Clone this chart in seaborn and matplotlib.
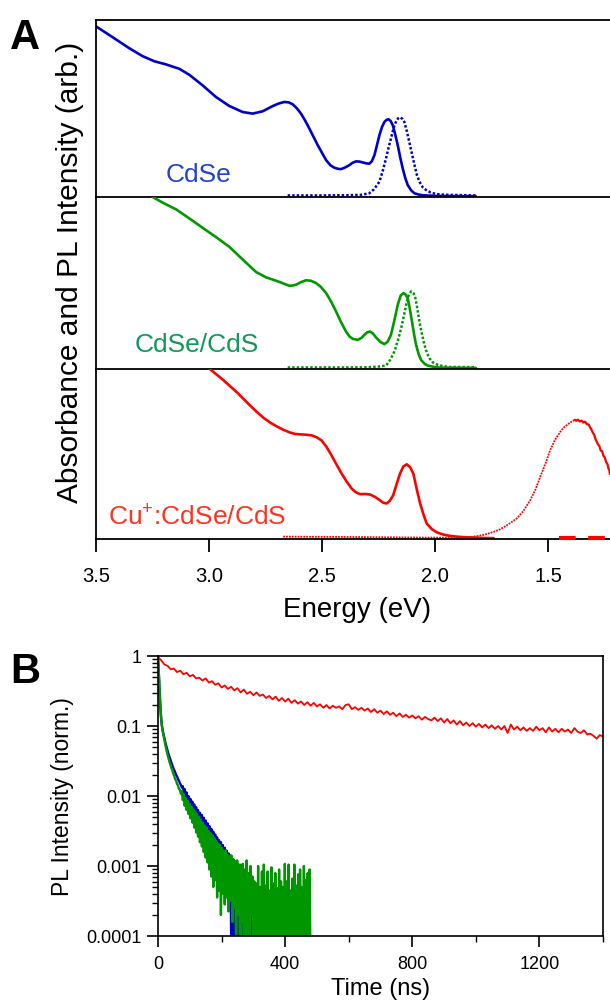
import numpy as np
import matplotlib
matplotlib.use("Agg")
import matplotlib.pyplot as plt
import seaborn as sns
from matplotlib.ticker import FixedLocator, FixedFormatter, LogLocator, NullFormatter

# ---------------- Panel A data (energy in eV, normalised intensity) ----------------
cdse_abs_E = [3.5, 3.426, 3.353, 3.294, 3.242, 3.19, 3.131, 3.087, 3.028, 2.969, 2.910,
              2.851, 2.807, 2.763, 2.718, 2.690, 2.667, 2.648, 2.630, 2.612, 2.593, 2.575,
              2.556, 2.519, 2.482, 2.462, 2.445, 2.430, 2.416, 2.397, 2.379, 2.365, 2.35,
              2.335, 2.320, 2.305, 2.291, 2.280, 2.268, 2.257, 2.246, 2.235, 2.224, 2.215,
              2.206, 2.197, 2.187, 2.176, 2.165, 2.154, 2.143, 2.132, 2.121, 2.106, 2.091,
              2.073, 2.055, 1.996, 1.819]
cdse_abs = [0.964, 0.902, 0.84, 0.795, 0.766, 0.748, 0.723, 0.689, 0.629, 0.563, 0.512,
            0.478, 0.469, 0.482, 0.512, 0.527, 0.535, 0.533, 0.522, 0.500, 0.469, 0.430,
            0.384, 0.29, 0.205, 0.175, 0.162, 0.156, 0.154, 0.164, 0.177, 0.190, 0.198,
            0.197, 0.192, 0.187, 0.185, 0.198, 0.234, 0.290, 0.347, 0.392, 0.422, 0.433,
            0.437, 0.428, 0.403, 0.350, 0.29, 0.220, 0.158, 0.105, 0.064, 0.034, 0.017,
            0.010, 0.006, 0.002, 0.0]
cdse_pl_E = [2.652, 2.5, 2.4, 2.33, 2.291, 2.27, 2.246, 2.23, 2.217, 2.205, 2.195, 2.183,
             2.173, 2.163, 2.155, 2.145, 2.136, 2.125, 2.114, 2.102, 2.091, 2.08, 2.069,
             2.055, 2.04, 2.02, 1.996, 1.96, 1.937, 1.819]
cdse_pl = [0.005, 0.005, 0.006, 0.008, 0.017, 0.04, 0.083, 0.15, 0.215, 0.28, 0.328, 0.39,
           0.422, 0.443, 0.448, 0.44, 0.422, 0.37, 0.309, 0.24, 0.177, 0.12, 0.083,
           0.052, 0.036, 0.022, 0.013, 0.009, 0.008, 0.005]

cs_abs_E = [3.262, 3.249, 3.205, 3.146, 3.087, 3.028, 2.969, 2.910, 2.851, 2.792, 2.748,
            2.696, 2.665, 2.645, 2.630, 2.615, 2.593, 2.571, 2.549, 2.527, 2.505, 2.482,
            2.46, 2.438, 2.416, 2.394, 2.378, 2.364, 2.342, 2.325, 2.313, 2.300, 2.288,
            2.275, 2.261, 2.243, 2.224, 2.21, 2.195, 2.18, 2.165, 2.152, 2.140, 2.131,
            2.121, 2.112, 2.102, 2.093, 2.084, 2.073, 2.062, 2.045, 2.032, 2.005, 1.981,
            1.819]
cs_abs = [1.02, 1.0, 0.967, 0.928, 0.875, 0.82, 0.766, 0.709, 0.635, 0.5625, 0.531,
          0.508, 0.492, 0.482, 0.483, 0.488, 0.503, 0.514, 0.511, 0.498, 0.475, 0.439,
          0.39, 0.332, 0.27, 0.215, 0.185, 0.172, 0.166, 0.178, 0.195, 0.210, 0.215,
          0.203, 0.18, 0.155, 0.141, 0.155, 0.195, 0.28, 0.371, 0.425, 0.439, 0.432,
          0.41, 0.35, 0.273, 0.2, 0.137, 0.085, 0.049, 0.025, 0.016, 0.008, 0.004,
          0.002]
cs_pl_E = [2.652, 2.4, 2.3, 2.25, 2.217, 2.198, 2.18, 2.165, 2.15, 2.139, 2.128, 2.117,
           2.106, 2.096, 2.087, 2.078, 2.069, 2.058, 2.047, 2.036, 2.025, 2.01, 1.988,
           1.96, 1.937, 1.819]
cs_pl = [0.005, 0.005, 0.006, 0.01, 0.016, 0.05, 0.098, 0.16, 0.234, 0.3, 0.371, 0.425,
         0.449, 0.44, 0.41, 0.345, 0.273, 0.2, 0.137, 0.09, 0.059, 0.035, 0.02,
         0.012, 0.008, 0.006]

cu_abs_E = [3.01, 2.996, 2.967, 2.937, 2.907, 2.877, 2.848, 2.818, 2.789, 2.759, 2.730,
            2.700, 2.671, 2.642, 2.62, 2.598, 2.572, 2.546, 2.524, 2.502, 2.48, 2.458,
            2.436, 2.413, 2.391, 2.369, 2.35, 2.332, 2.31, 2.288, 2.266, 2.244, 2.229,
            2.214, 2.2, 2.185, 2.17, 2.155, 2.14, 2.125, 2.11, 2.096, 2.081, 2.066,
            2.051, 2.037, 2.015, 1.992, 1.963, 1.933, 1.896, 1.859, 1.82, 1.786, 1.74]
cu_abs = [1.02, 1.0, 0.968, 0.935, 0.899, 0.863, 0.824, 0.784, 0.747, 0.712, 0.684,
          0.661, 0.641, 0.625, 0.617, 0.614, 0.612, 0.608, 0.597, 0.578, 0.54, 0.49,
          0.436, 0.382, 0.335, 0.294, 0.272, 0.261, 0.262, 0.259, 0.245, 0.225, 0.21,
          0.206, 0.222, 0.255, 0.32, 0.382, 0.425, 0.437, 0.42, 0.382, 0.29, 0.206,
          0.14, 0.088, 0.055, 0.035, 0.022, 0.014, 0.009, 0.006, 0.004, 0.002, 0.001]
cu_abs_tail_E = [1.45, 1.226]
cu_abs_tail = [0.003, 0.003]
cu_pl_E = [2.672, 2.4, 2.2, 2.0, 1.90, 1.859, 1.82, 1.786, 1.75, 1.712, 1.675, 1.638,
           1.61, 1.579, 1.555, 1.535, 1.512, 1.491, 1.47, 1.447, 1.43, 1.41, 1.395, 1.381]
cu_pl = [0.01, 0.008, 0.006, 0.004, 0.004, 0.006, 0.012, 0.02, 0.034, 0.053, 0.083, 0.118,
         0.16, 0.225, 0.29, 0.363, 0.44, 0.52, 0.58, 0.627, 0.655, 0.676, 0.69, 0.70]
cu_pl_tail_E = [1.381, 1.375, 1.368, 1.36, 1.352, 1.344, 1.336, 1.328, 1.32, 1.314, 1.308,
                1.302, 1.296, 1.290, 1.285, 1.279, 1.273, 1.267, 1.261, 1.255, 1.249,
                1.243, 1.237, 1.233, 1.229, 1.227]
cu_pl_tail = [0.70, 0.694, 0.701, 0.690, 0.695, 0.684, 0.689, 0.674, 0.672, 0.655, 0.642,
              0.624, 0.612, 0.585, 0.572, 0.555, 0.545, 0.518, 0.515, 0.487, 0.478,
              0.450, 0.438, 0.412, 0.405, 0.38]

energy_ticks = [3.5, 3.0, 2.5, 2.0, 1.5]
energy_tick_labels = ["3.5", "3.0", "2.5", "2.0", "1.5"]

# ---------------- Panel B data (time in ns, log10 of normalised PL) ----------------
time_step_fast = 3    # ns between points for CdSe and CdSe/CdS decays
time_step_slow = 10   # ns between points for Cu+ decay
cdse_decay_log = [
    0.00, -0.30, -0.62, -0.85, -0.99, -1.07, -1.13, -1.19, -1.25, -1.30,
    -1.35, -1.40, -1.44, -1.48, -1.52, -1.56, -1.60, -1.63, -1.66, -1.70,
    -1.72, -1.76, -1.78, -1.82, -1.84, -1.88, -1.86, -1.95, -1.90, -2.02,
    -1.95, -2.09, -2.00, -2.14, -2.04, -2.19, -2.08, -2.25, -2.12, -2.30,
    -2.16, -2.35, -2.20, -2.40, -2.24, -2.46, -2.27, -2.51, -2.31, -2.57,
    -2.35, -2.62, -2.39, -2.68, -2.43, -2.74, -2.47, -2.80, -2.51, -2.86,
    -2.55, -2.92, -2.59, -2.99, -2.63, -3.06, -2.66, -3.12, -2.70, -3.20,
    -2.74, -3.28, -2.78, -3.38, -2.82, -3.50, -2.85, -4.50, -2.92, -4.50,
    -2.95, -3.70, -2.98, -4.50, -3.00, -4.50, -3.03, -3.80, -3.06, -4.50,
    -3.08, -4.50, -3.10, -3.90, -3.12, -4.50, -3.14, -4.50, -3.18, -4.50,
    -3.22]
cs_decay_log = [
    0.00, -0.28, -0.58, -0.82, -0.98, -1.08, -1.15, -1.22, -1.29, -1.35,
    -1.41, -1.46, -1.51, -1.55, -1.60, -1.63, -1.68, -1.71, -1.76, -1.78,
    -1.83, -1.85, -1.90, -1.91, -1.97, -1.93, -2.06, -1.98, -2.14, -2.03,
    -2.20, -2.07, -2.26, -2.11, -2.32, -2.15, -2.38, -2.19, -2.45, -2.22,
    -2.52, -2.26, -2.58, -2.30, -2.66, -2.34, -2.72, -2.38, -2.80, -2.42,
    -2.88, -2.45, -2.95, -2.50, -3.05, -2.53, -3.15, -2.56, -3.30, -2.60,
    -3.20, -2.64, -3.45, -2.68, -3.35, -2.70, -3.70, -2.74, -3.40, -2.78,
    -3.55, -2.78, -3.45, -2.84, -3.65, -2.86, -3.50, -2.85, -3.80, -2.90,
    -3.60, -2.93, -4.50, -2.92, -3.70, -2.98, -4.50, -2.98, -3.80, -2.97,
    -4.50, -3.05, -4.50, -2.92, -4.50, -3.10, -4.50, -3.00, -3.70, -3.15,
    -4.50, -3.22, -4.50, -3.25, -4.50, -3.00, -4.50, -3.30, -4.50, -3.08,
    -4.50, -2.98, -4.50, -3.28, -4.50, -3.08, -4.50, -3.35, -4.50, -3.02,
    -4.50, -3.25, -4.50, -3.10, -4.50, -3.32, -4.50, -3.05, -4.50, -3.22,
    -4.50, -3.30, -4.50, -2.97, -4.50, -3.22, -4.50, -2.98, -4.50, -3.35,
    -4.50, -3.18, -4.50, -2.98, -4.50, -3.28, -4.50, -3.12, -4.50, -3.05,
    -4.50, -3.30, -4.50, -3.00, -4.50, -3.20, -4.50, -3.10, -4.50, -3.05,
    -4.50]
cu_decay_log = [
    -0.02, -0.06, -0.12, -0.14, -0.19, -0.18, -0.23, -0.21, -0.26, -0.24,
    -0.29, -0.27, -0.32, -0.31, -0.35, -0.32, -0.38, -0.36, -0.41, -0.39,
    -0.45, -0.42, -0.47, -0.44, -0.49, -0.46, -0.52, -0.48, -0.54, -0.51,
    -0.56, -0.52, -0.57, -0.55, -0.60, -0.57, -0.62, -0.58, -0.64, -0.60,
    -0.65, -0.61, -0.67, -0.63, -0.68, -0.65, -0.70, -0.66, -0.71, -0.67,
    -0.72, -0.69, -0.74, -0.70, -0.75, -0.71, -0.74, -0.72, -0.76, -0.70,
    -0.69, -0.76, -0.73, -0.77, -0.74, -0.78, -0.75, -0.80, -0.76, -0.81,
    -0.78, -0.83, -0.79, -0.84, -0.81, -0.86, -0.82, -0.87, -0.84, -0.88,
    -0.85, -0.89, -0.86, -0.91, -0.87, -0.90, -0.92, -0.88, -0.93, -0.89,
    -0.95, -0.90, -0.96, -0.92, -0.98, -0.93, -0.99, -0.95, -1.00, -0.96,
    -1.01, -0.97, -1.02, -0.98, -1.03, -0.99, -1.04, -1.00, -1.05, -1.00,
    -1.10, -0.98, -1.05, -1.01, -1.06, -1.02, -1.07, -1.03, -1.07, -1.01,
    -1.06, -1.03, -1.09, -1.02, -1.08, -1.04, -1.09, -1.04, -1.08, -1.05,
    -1.10, -1.03, -1.08, -1.10, -1.06, -1.12, -1.11, -1.14, -1.18, -1.13,
    -1.15]
time_major = [0, 400, 800, 1200]
time_minor = [200, 600, 1000, 1400]
pl_ticks = [1e-4, 1e-3, 1e-2, 1e-1, 1]
pl_tick_labels = ["0.0001", "0.001", "0.01", "0.1", "1"]

# ---------------- style ----------------
sns.set_theme(style="white")
plt.rcParams['font.family'] = ['Liberation Sans', 'DejaVu Sans']
plt.rcParams['mathtext.fontset'] = 'custom'
plt.rcParams['mathtext.rm'] = 'Liberation Sans'
plt.rcParams['axes.edgecolor'] = 'black'
plt.rcParams['axes.linewidth'] = 1.3
plt.rcParams['text.color'] = 'black'
plt.rcParams['axes.labelcolor'] = 'black'
plt.rcParams['xtick.color'] = 'black'
plt.rcParams['ytick.color'] = 'black'

BLUE = '#0000cc'
GREEN = '#009900'
RED = '#ff0000'

W, H = 610, 1004
fig = plt.figure(figsize=(W / 100, H / 100), dpi=100)


def px_axes(left, top, right, bottom):
    return fig.add_axes([left / W, 1 - bottom / H, (right - left) / W, (bottom - top) / H])


ax1 = px_axes(96, 21, 610, 198)
ax2 = px_axes(96, 198, 610, 370)
ax3 = px_axes(96, 370, 610, 540)

dot = (0, (1, 0.8))
sns.lineplot(x=cdse_abs_E, y=cdse_abs, ax=ax1, color=BLUE, lw=1.9, sort=False, estimator=None)
sns.lineplot(x=cdse_pl_E, y=cdse_pl, ax=ax1, color=BLUE, lw=1.8, linestyle=dot, sort=False, estimator=None)
sns.lineplot(x=cs_abs_E, y=cs_abs, ax=ax2, color=GREEN, lw=1.9, sort=False, estimator=None)
sns.lineplot(x=cs_pl_E, y=cs_pl, ax=ax2, color=GREEN, lw=1.8, linestyle=dot, sort=False, estimator=None)
sns.lineplot(x=cu_abs_E, y=cu_abs, ax=ax3, color=RED, lw=1.9, sort=False, estimator=None)
sns.lineplot(x=cu_pl_E, y=cu_pl, ax=ax3, color=RED, lw=1.3, linestyle=(0, (1, 0.6)), sort=False, estimator=None)
sns.lineplot(x=cu_pl_tail_E, y=cu_pl_tail, ax=ax3, color=RED, lw=1.6, sort=False, estimator=None)
sns.lineplot(x=cu_abs_tail_E, y=cu_abs_tail, ax=ax3, color=RED, lw=3.0, linestyle=(0, (4, 3)),
             sort=False, estimator=None, zorder=5, clip_on=False)

for ax in (ax1, ax2, ax3):
    ax.set_xlim(3.5, 1.226)
    ax.set_ylim(-0.004, 1.0)
    ax.set_yticks([])
    ax.set_xlabel('')
    ax.set_ylabel('')
    ax.spines['right'].set_visible(False)
    ax.patch.set_alpha(0)
    if ax is not ax1:
        ax.spines['top'].set_visible(False)
    if ax is not ax3:
        ax.set_xticks([])

ax3.xaxis.set_major_locator(FixedLocator(energy_ticks))
ax3.xaxis.set_major_formatter(FixedFormatter(energy_tick_labels))
ax3.tick_params(axis='x', bottom=True, direction='out', length=9.5, width=1.3,
                labelsize=14.5, pad=10, colors='black')

ax1.text(0.136, 0.13, 'CdSe', transform=ax1.transAxes, color='#2244cc', fontsize=19,
         va='center', ha='left')
ax2.text(0.076, 0.145, 'CdSe/CdS', transform=ax2.transAxes, color='#12985a', fontsize=19,
         va='center', ha='left')
ax3.text(0.023, 0.141, 'Cu$^{+}$:CdSe/CdS', transform=ax3.transAxes, color='#ff3322',
         fontsize=19, va='center', ha='left')

fig.text(70 / W, 1 - 272 / H, 'Absorbance and PL Intensity (arb.)', rotation=90,
         ha='center', va='center', fontsize=21.5)
fig.text(357 / W, 1 - 610 / H, 'Energy (eV)', ha='center', va='center', fontsize=20)
fig.text(10 / W, 1 - 18 / H, 'A', ha='left', va='top', fontsize=30, fontweight='bold')

# ---------------- Panel B ----------------
axb = px_axes(158, 657, 603, 937)
t_cdse = np.arange(len(cdse_decay_log)) * time_step_fast
t_cs = np.arange(len(cs_decay_log)) * time_step_fast
t_cu = np.arange(len(cu_decay_log)) * time_step_slow
sns.lineplot(x=t_cdse, y=10 ** np.array(cdse_decay_log), ax=axb, color='#0000c8', lw=1.7,
             sort=False, estimator=None)
sns.lineplot(x=t_cs, y=10 ** np.array(cs_decay_log), ax=axb, color='#009600', lw=1.7,
             sort=False, estimator=None)
sns.lineplot(x=t_cu, y=10 ** np.array(cu_decay_log), ax=axb, color='#ff0000', lw=1.3,
             sort=False, estimator=None)
axb.set_yscale('log')
axb.set_xlim(0, 1400)
axb.set_ylim(1e-4, 1)
axb.set_xlabel('')
axb.set_ylabel('')
axb.xaxis.set_major_locator(FixedLocator(time_major))
axb.xaxis.set_major_formatter(FixedFormatter([str(v) for v in time_major]))
axb.xaxis.set_minor_locator(FixedLocator(time_minor))
axb.yaxis.set_major_locator(FixedLocator(pl_ticks))
axb.yaxis.set_major_formatter(FixedFormatter(pl_tick_labels))
axb.yaxis.set_minor_locator(LogLocator(base=10, subs=np.arange(2, 10), numticks=20))
axb.yaxis.set_minor_formatter(NullFormatter())
axb.tick_params(which='major', direction='out', length=8, width=1.2, labelsize=13,
                colors='black', bottom=True, left=True, top=False, right=False)
axb.tick_params(which='minor', direction='out', length=4, width=1.0,
                bottom=True, left=True, top=False, right=False)
axb.tick_params(axis='x', which='major', pad=6)
axb.tick_params(axis='y', which='major', pad=4)
for s in axb.spines.values():
    s.set_visible(True)
    s.set_linewidth(1.2)

fig.text(62 / W, 1 - 797 / H, 'PL Intensity (norm.)', rotation=90, ha='center',
         va='center', fontsize=16.5)
fig.text(381 / W, 1 - 989 / H, 'Time (ns)', ha='center', va='center', fontsize=17)
fig.text(10 / W, 1 - 652 / H, 'B', ha='left', va='top', fontsize=30, fontweight='bold')

fig.savefig('out.png', dpi=100)
